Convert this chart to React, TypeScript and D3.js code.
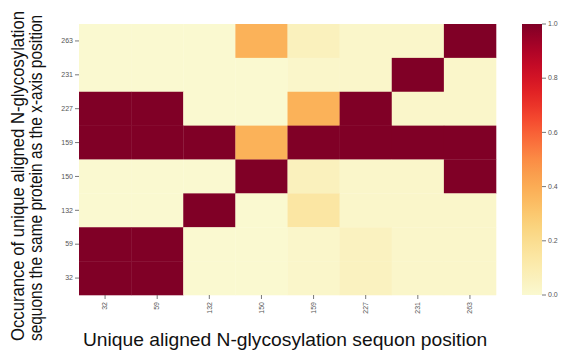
import React, { useEffect, useRef } from "react";
import * as d3 from "d3";

const xLabels = ["32", "59", "132", "150", "159", "227", "231", "263"];
const yLabels = ["263", "231", "227", "159", "150", "132", "59", "32"];
// one row per y label (top to bottom), one value per x label
const row263 = [0, 0, 0, 0.38, 0.06, 0.02, 0.02, 1];
const row231 = [0, 0, 0, 0, 0.02, 0.02, 1, 0.02];
const row227 = [1, 1, 0, 0, 0.38, 1, 0.02, 0.02];
const row159 = [1, 1, 1, 0.38, 1, 1, 1, 1];
const row150 = [0, 0, 0, 1, 0.06, 0.02, 0.02, 1];
const row132 = [0, 0, 1, 0, 0.14, 0.02, 0.02, 0.02];
const row59 = [1, 1, 0, 0, 0.02, 0.05, 0.02, 0.02];
const row32 = [1, 1, 0, 0, 0.02, 0.05, 0.02, 0.02];
const rows = [row263, row231, row227, row159, row150, row132, row59, row32];
const cbarTicks = [0, 0.2, 0.4, 0.6, 0.8, 1.0];

const W = 562;
const H = 350;
const left = 79;
const right = 496;
const top = 24;
const bottom = 295;

// YlOrRd, nudged a little at the light end like the screenshot
const color = (v: number) =>
  d3.interpolateRgb(d3.interpolateYlOrRd(v), "#cdbef4")(0.1 * (1 - v));

export default function App() {
  const ref = useRef<SVGSVGElement>(null);
  const x = d3.scaleBand<string>().domain(xLabels).range([left, right]);
  const y = d3.scaleBand<string>().domain(yLabels).range([top, bottom]);
  const cb = d3.scaleLinear().domain([0, 1]).range([bottom, top]);
  const cbX = 522;
  const cbW = 20;
  const stops = d3.range(0, 1.001, 0.05);
  const tickColor = "#555";

  // squeeze the long titles to the widths seen in the picture
  useEffect(() => {
    d3.select(ref.current)
      .selectAll<SVGTextElement, unknown>("text.fit")
      .each(function () {
        const el = d3.select(this);
        const want = +el.attr("data-len");
        const have = this.getComputedTextLength();
        const cx = +el.attr("data-cx");
        const cy = +el.attr("data-cy");
        const rot = +el.attr("data-rot");
        const s = want / have;
        el.attr("transform", `translate(${cx},${cy}) rotate(${rot}) scale(${s},1)`);
      });
  }, []);

  const titles = [
    { t: "Unique aligned N-glycosylation sequon position", cx: 285, cy: 346, rot: 0, len: 404 },
    { t: "Occurance of unique aligned N-glycosylation", cx: 24, cy: 176, rot: -90, len: 330 },
    { t: "sequons the same protein as the x-axis position", cx: 42, cy: 178, rot: -90, len: 326 },
  ];

  return (
    <svg
      ref={ref}
      width={W}
      height={H}
      style={{ position: "absolute", left: 0, top: 0, background: "#fff" }}
      fontFamily="Liberation Sans, Arial, sans-serif"
    >
      <defs>
        <linearGradient id="cbar" x1="0" y1="1" x2="0" y2="0">
          {stops.map((s) => (
            <stop key={s} offset={s} stopColor={color(s)} />
          ))}
        </linearGradient>
      </defs>
      {rows.map((r, i) =>
        r.map((v, j) => (
          <rect
            key={i + "-" + j}
            x={x(xLabels[j])}
            y={y(yLabels[i])}
            width={x.bandwidth() + 0.3}
            height={y.bandwidth() + 0.3}
            fill={color(v)}
          />
        ))
      )}
      {yLabels.map((l) => (
        <g key={l} transform={`translate(${left},${y(l)! + y.bandwidth() / 2})`}>
          <line x1={-4} x2={0} stroke={tickColor} strokeWidth={0.8} />
          <text x={-6} dy="0.32em" textAnchor="end" fontSize={7} fill={tickColor}>
            {l}
          </text>
        </g>
      ))}
      {xLabels.map((l) => (
        <g key={l} transform={`translate(${x(l)! + x.bandwidth() / 2},${bottom})`}>
          <line y1={0} y2={4} stroke={tickColor} strokeWidth={0.8} />
          <text
            transform="translate(0,7) rotate(-90)"
            dy="0.32em"
            textAnchor="end"
            fontSize={7}
            fill={tickColor}
          >
            {l}
          </text>
        </g>
      ))}
      <rect x={cbX} y={top} width={cbW} height={bottom - top} fill="url(#cbar)" />
      {cbarTicks.map((t) => (
        <g key={t} transform={`translate(${cbX + cbW},${cb(t)})`}>
          <line x1={0} x2={4} stroke={tickColor} strokeWidth={0.8} />
          <text x={6} dy="0.32em" fontSize={7} fill={tickColor}>
            {t.toFixed(1)}
          </text>
        </g>
      ))}
      {titles.map((d) => (
        <text
          key={d.t}
          className="fit"
          data-len={d.len}
          data-cx={d.cx}
          data-cy={d.cy}
          data-rot={d.rot}
          transform={`translate(${d.cx},${d.cy}) rotate(${d.rot}) scale(0.88,1)`}
          textAnchor="middle"
          fontSize={18}
          fill="#111"
        >
          {d.t}
        </text>
      ))}
    </svg>
  );
}
